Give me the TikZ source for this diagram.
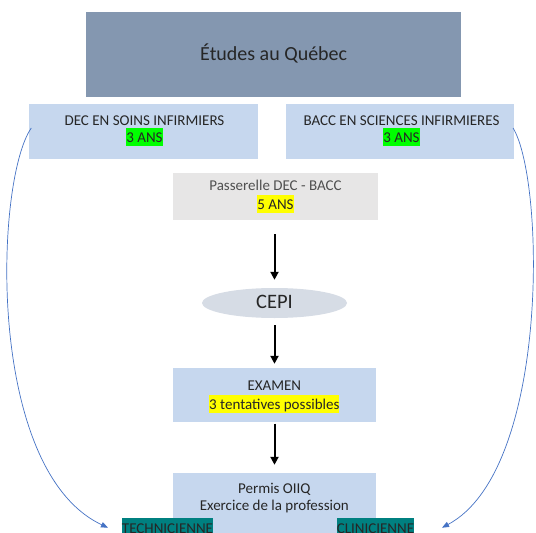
\documentclass[tikz,border=0pt]{standalone}
\usepackage{fontspec}
\setmainfont{Carlito}
\usetikzlibrary{arrows.meta,shapes.geometric}
\definecolor{titlefill}{HTML}{8497B0}
\definecolor{boxblue}{HTML}{C6D7EE}
\definecolor{passgray}{HTML}{E7E6E6}
\definecolor{cepifill}{HTML}{D6DCE5}
\definecolor{ink}{HTML}{262626}
\definecolor{inkgray}{HTML}{505050}
\definecolor{hlgreen}{HTML}{00FF00}
\definecolor{hlyellow}{HTML}{FFFF00}
\definecolor{hlteal}{HTML}{008080}
\definecolor{linkblue}{HTML}{4472C4}
% highlighted run of text: 15pt above the baseline, 3pt below
\newcommand\marker[2]{{\setlength{\fboxsep}{0pt}\colorbox{#1}{\rule[-3pt]{0pt}{18pt}#2}}}
\begin{document}
\begin{tikzpicture}[x=1pt,y=-1pt,
  panel/.style={rectangle, inner sep=0pt, draw=none},
  txt/.style={anchor=base, inner sep=0pt, text=ink, font=\fontsize{15}{18}\selectfont},
  bigtxt/.style={anchor=base, inner sep=0pt, text=ink, font=\fontsize{20}{24}\selectfont},
  flow/.style={-{Triangle[length=8pt,width=8pt]}, line width=2pt, black},
  link/.style={-{Triangle[length=7pt,width=5.5pt]}, line width=0.7pt, linkblue}]
\useasboundingbox (0,0) rectangle (536,533);
\clip (0,0) rectangle (536,533);

% boxes
\node[panel, fill=titlefill, minimum width=375.3pt, minimum height=85.3pt] (top) at (273.7,54.7) {};
\node[panel, fill=boxblue, minimum width=228.4pt, minimum height=54.4pt] (dec) at (143.5,131.5) {};
\node[panel, fill=boxblue, minimum width=227.7pt, minimum height=54.4pt] (bacc) at (399.9,131.5) {};
\node[panel, fill=passgray, minimum width=205pt, minimum height=47pt] (pass) at (275.5,196.5) {};
\node[ellipse, inner sep=0pt, fill=cepifill, minimum width=145pt, minimum height=30pt] (cepi) at (274.5,303) {};
\node[panel, fill=boxblue, minimum width=203.3pt, minimum height=53.4pt] (exam) at (274.35,395) {};
\node[panel, fill=boxblue, minimum width=203.3pt, minimum height=71.4pt] (permis) at (274.35,509) {};

% texts
\node[bigtxt] (topt) at (273.7,60.7) {Études au Québec};
\node[txt] (dec1) at (144.5,125) {DEC EN SOINS INFIRMIERS};
\node[txt] (dec2) at (144.5,142.7) {\marker{hlgreen}{3 ANS}};
\node[txt] (bacc1) at (401.5,125) {BACC EN SCIENCES INFIRMIERES};
\node[txt] (bacc2) at (401.5,142.7) {\marker{hlgreen}{3 ANS}};
\node[txt, text=inkgray] (pass1) at (275.5,190.5) {Passerelle DEC - BACC};
\node[txt] (pass2) at (275.5,209.7) {\marker{hlyellow}{5 ANS}};
\node[bigtxt, font=\fontsize{20.5}{24}\selectfont] (cepit) at (274.5,308.3) {CEPI};
\node[txt] (exam1) at (274.35,390.7) {EXAMEN};
\node[txt] (exam2) at (274.35,409.5) {\marker{hlyellow}{3 tentatives possibles}};
\node[txt] (permis1) at (274.35,493) {Permis OIIQ};
\node[txt] (permis2) at (274.35,510.5) {Exercice de la profession};
\node[txt] (tech) at (167.5,533) {\marker{hlteal}{TECHNICIENNE}};
\node[txt] (clin) at (375.5,533) {\marker{hlteal}{CLINICIENNE}};

% main path
\draw[flow, shorten <=14pt, shorten >=8pt] (pass.south -| cepi.center) -- (cepi.north);
\draw[flow, shorten <=7pt, shorten >=4.3pt] (cepi.south) -- (exam.north -| cepi.center);
\draw[flow, shorten <=1.6pt, shorten >=8.3pt] (exam.south -| cepi.center) -- (permis.north -| cepi.center);

% side links to the two titles
\coordinate (techin) at (108,527.7);
\coordinate (clinin) at (442,527.7);
\draw[link] ([shift={(2.2,-3.5)}]dec.west) .. controls (-5,180) and (-15,470) .. (techin);
\draw[link] ([shift={(-0.9,-3.5)}]bacc.east) .. controls (545,180) and (550,470) .. (clinin);
\end{tikzpicture}
\end{document}
